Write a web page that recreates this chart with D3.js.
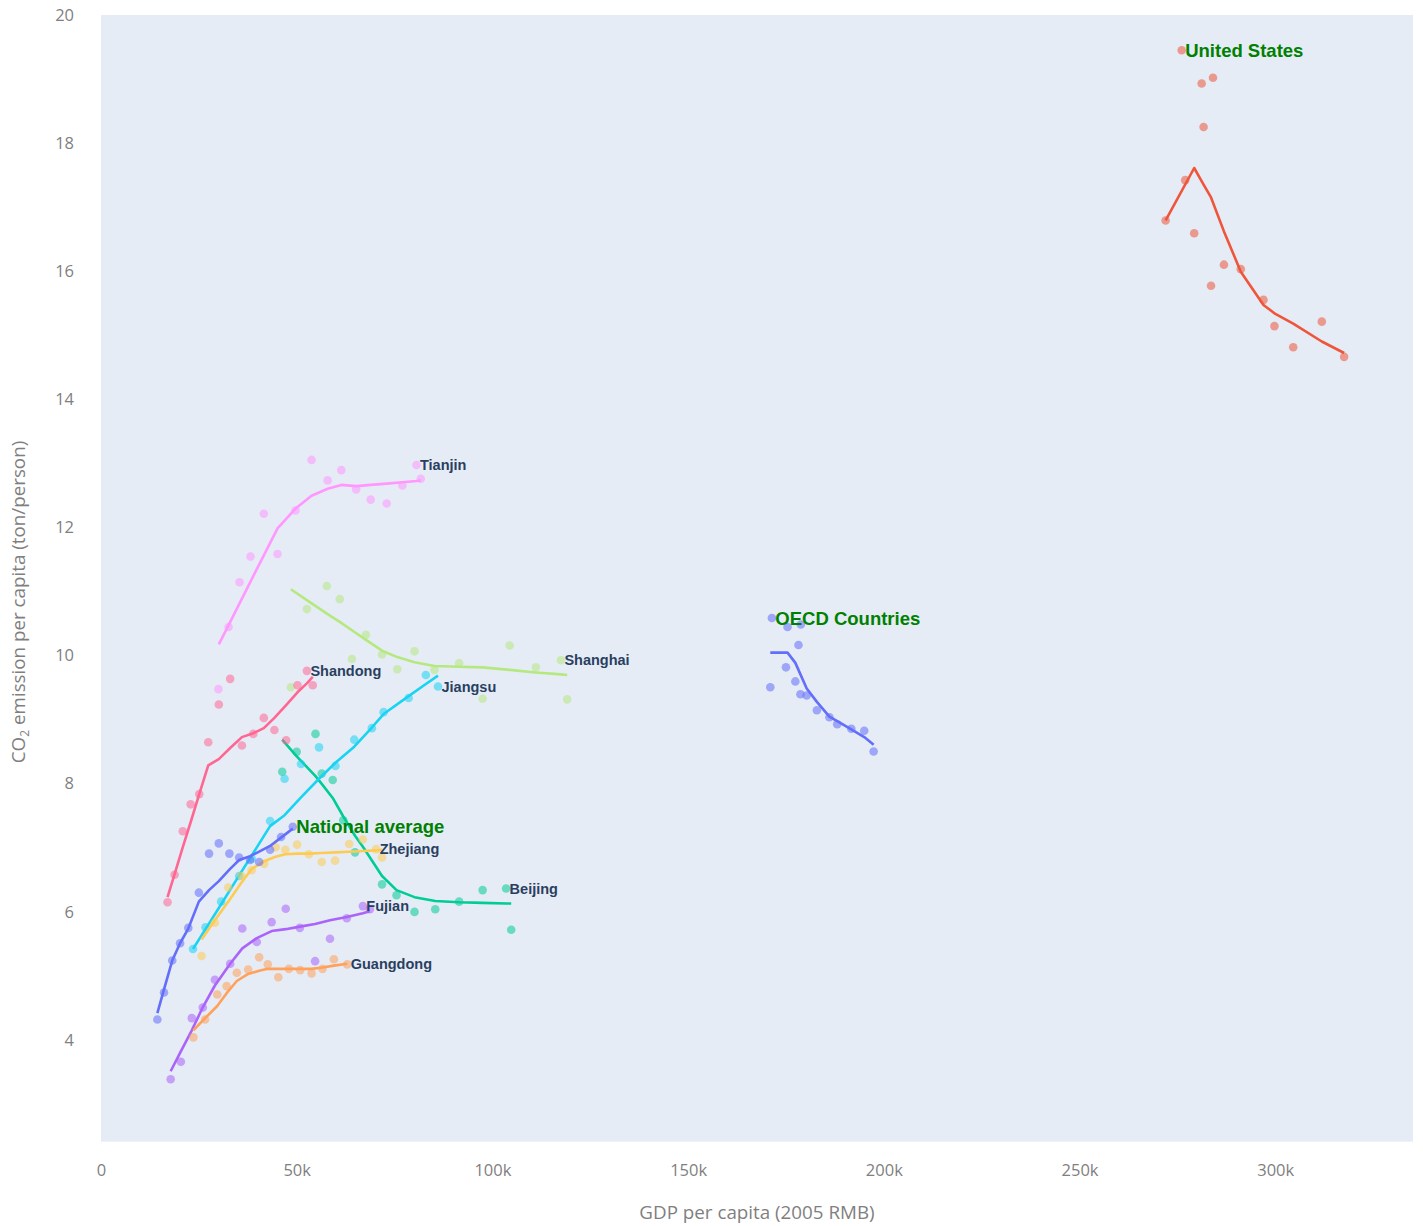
<!DOCTYPE html>
<html><head><meta charset="utf-8">
<script src="https://cdn.jsdelivr.net/npm/d3@7"></script>
<style>body{margin:0;background:#fff;} svg{display:block;}</style>
</head><body>
<svg id="chart" width="1423" height="1226"></svg>
<script>
// ---- data (x in thousand 2005 RMB, y in ton/person) ----
const xTicks = [0, 50, 100, 150, 200, 250, 300];
const yTicks = [4, 6, 8, 10, 12, 14, 16, 18, 20];

const beijingPts = [[46.3,8.18],[50.0,8.49],[54.8,8.77],[56.4,8.15],[59.2,8.05],[61.9,7.42],[64.9,6.92],[71.8,6.42],[75.5,6.25],[80.1,5.99],[85.4,6.03],[91.5,6.15],[97.5,6.33],[103.5,6.355],[104.8,5.71]];
const beijingFit = [[46.3,8.68],[50.0,8.42],[54.8,8.11],[56.4,7.99],[59.2,7.77],[61.9,7.48],[64.9,7.18],[67.0,7.0],[71.8,6.55],[75.5,6.33],[80.1,6.22],[85.4,6.16],[91.5,6.14],[97.5,6.13],[103.5,6.12],[104.8,6.12]];

const shanghaiPts = [[48.5,9.50],[52.6,10.72],[57.7,11.08],[61.0,10.875],[64.1,9.94],[67.7,10.32],[71.8,10.01],[75.7,9.78],[80.1,10.06],[85.2,9.77],[91.5,9.875],[97.5,9.32],[104.4,10.15],[111.1,9.81],[117.5,9.92],[119.1,9.31]];
const shanghaiFit = [[48.5,11.03],[52.6,10.86],[57.7,10.65],[61.0,10.52],[64.1,10.39],[67.7,10.24],[71.8,10.07],[75.7,9.97],[80.1,9.89],[85.2,9.83],[91.5,9.82],[97.5,9.81],[104.4,9.77],[111.1,9.73],[117.5,9.70],[119.1,9.69]];

const tianjinPts = [[30.0,9.47],[32.6,10.44],[35.4,11.14],[38.2,11.54],[41.6,12.21],[45.1,11.58],[49.7,12.26],[53.8,13.05],[57.9,12.73],[61.4,12.89],[65.2,12.59],[68.9,12.43],[73.0,12.37],[77.0,12.65],[80.6,12.97],[81.7,12.755]];
const tianjinFit = [[30.1,10.17],[32.6,10.47],[35.4,10.81],[38.2,11.15],[41.6,11.56],[45.1,11.98],[49.7,12.29],[53.8,12.49],[57.9,12.60],[61.4,12.66],[65.2,12.64],[68.9,12.66],[73.0,12.68],[77.0,12.70],[80.6,12.72],[81.7,12.73]];

const jiangsuPts = [[23.5,5.41],[26.7,5.75],[30.7,6.15],[35.3,6.55],[38.5,6.82],[43.2,7.41],[46.9,8.07],[51.1,8.30],[55.7,8.56],[59.9,8.27],[64.7,8.68],[69.2,8.86],[72.2,9.11],[78.6,9.33],[83.0,9.69],[86.1,9.51]];
const jiangsuFit = [[23.5,5.41],[26.7,5.72],[30.7,6.11],[35.3,6.56],[38.5,6.87],[43.2,7.33],[46.9,7.50],[51.1,7.78],[55.7,8.07],[59.9,8.32],[64.7,8.57],[69.2,8.87],[72.2,9.08],[78.6,9.36],[83.0,9.55],[86.1,9.68]];

const zhejiangPts = [[25.7,5.30],[29.1,5.82],[32.5,6.37],[35.9,6.55],[38.5,6.64],[41.7,6.74],[44.6,7.00],[47.1,6.96],[50.1,7.04],[53.1,6.89],[56.4,6.77],[59.8,6.79],[63.4,7.05],[66.9,7.12],[70.3,6.97],[71.8,6.84]];
const zhejiangFit = [[25.7,5.56],[29.1,5.86],[32.5,6.15],[35.9,6.45],[38.5,6.66],[41.7,6.78],[44.6,6.85],[47.1,6.89],[50.1,6.90],[53.1,6.90],[56.4,6.91],[59.8,6.92],[63.4,6.93],[66.9,6.94],[70.3,6.95],[71.8,6.96]];

const fujianPts = [[17.8,3.375],[20.4,3.65],[23.2,4.33],[26.0,4.495],[29.1,4.93],[33.0,5.18],[36.1,5.73],[39.8,5.52],[43.6,5.83],[47.2,6.04],[50.8,5.74],[54.7,5.22],[58.5,5.57],[62.8,5.89],[66.9,6.08],[68.7,6.03]];
const fujianFit = [[17.8,3.50],[20.4,3.81],[23.2,4.14],[26.0,4.50],[29.1,4.84],[33.0,5.18],[36.1,5.42],[39.8,5.58],[43.6,5.69],[47.2,5.72],[50.8,5.76],[54.7,5.80],[58.5,5.86],[62.8,5.91],[66.9,5.97],[68.7,6.00]];

const guangdongPts = [[23.6,4.03],[26.6,4.31],[29.7,4.70],[32.1,4.83],[34.7,5.04],[37.6,5.09],[40.4,5.28],[42.6,5.17],[45.3,4.97],[48.0,5.10],[50.9,5.08],[53.8,5.03],[56.6,5.10],[59.5,5.25],[62.9,5.17]];
const guangdongFit = [[23.6,4.14],[26.6,4.33],[29.7,4.52],[32.1,4.72],[34.7,4.91],[37.6,5.02],[40.4,5.07],[42.6,5.10],[45.3,5.10],[48.0,5.10],[50.9,5.10],[53.8,5.10],[56.6,5.12],[59.5,5.15],[62.9,5.18]];

const shandongPts = [[17.0,6.14],[18.8,6.57],[20.9,7.25],[22.9,7.67],[25.1,7.83],[27.4,8.64],[30.1,9.23],[33.0,9.63],[36.0,8.59],[38.9,8.77],[41.6,9.02],[44.3,8.83],[47.3,8.67],[50.2,9.53],[52.6,9.755],[54.1,9.53]];
const shandongFit = [[17.0,6.22],[18.8,6.58],[20.9,7.00],[22.9,7.39],[25.1,7.83],[27.4,8.28],[30.1,8.375],[33.0,8.55],[36.0,8.72],[38.9,8.78],[41.6,8.86],[44.3,9.02],[47.3,9.22],[50.2,9.42],[52.6,9.56],[54.1,9.66]];

const nationalPts = [[14.4,4.31],[16.1,4.73],[18.2,5.23],[20.2,5.50],[22.3,5.74],[25.0,6.29],[27.6,6.90],[30.1,7.06],[32.8,6.90],[35.3,6.84],[38.1,6.80],[40.4,6.77],[43.2,6.96],[46.0,7.16],[49.0,7.32]];
const nationalFit = [[14.4,4.41],[16.1,4.78],[18.2,5.23],[20.2,5.50],[22.3,5.73],[25.0,6.15],[27.6,6.33],[30.1,6.47],[32.8,6.65],[35.3,6.80],[38.1,6.86],[40.4,6.93],[43.2,7.02],[46.0,7.15],[49.0,7.29]];

const oecdPts = [[171.0,9.50],[171.4,10.58],[175.0,9.81],[175.4,10.44],[177.4,9.59],[178.2,10.16],[178.7,9.39],[178.8,10.48],[180.3,9.37],[182.9,9.14],[186.1,9.03],[188.1,8.92],[191.7,8.85],[195.0,8.82],[197.4,8.495]];
const oecdFit = [[171.0,10.04],[175.4,10.04],[177.4,9.88],[178.7,9.70],[180.3,9.48],[182.9,9.27],[186.1,9.04],[188.1,8.97],[191.7,8.84],[195.0,8.72],[197.4,8.60]];

const usPts = [[272.0,16.79],[276.1,19.45],[277.0,17.42],[279.3,16.59],[281.2,18.93],[281.7,18.25],[283.6,15.77],[284.1,19.02],[286.9,16.10],[291.2,16.03],[297.0,15.55],[299.8,15.14],[304.6,14.81],[311.9,15.21],[317.6,14.66]];
const usFit = [[272.0,16.79],[279.3,17.61],[281.7,17.35],[283.6,17.15],[286.9,16.62],[291.2,15.99],[297.0,15.47],[299.8,15.34],[304.6,15.18],[311.9,14.90],[317.6,14.72]];

const seriesNames = ["Beijing","Shanghai","Tianjin","Jiangsu","Zhejiang","Fujian","Guangdong","Shandong","National average","OECD Countries","United States"];
const seriesPts = [beijingPts, shanghaiPts, tianjinPts, jiangsuPts, zhejiangPts, fujianPts, guangdongPts, shandongPts, nationalPts, oecdPts, usPts];
const seriesFit = [beijingFit, shanghaiFit, tianjinFit, jiangsuFit, zhejiangFit, fujianFit, guangdongFit, shandongFit, nationalFit, oecdFit, usFit];
const seriesColors = ["#00cc96","#b6e880","#ff97ff","#19d3f3","#fecb52","#ab63fa","#ffa15a","#ff6692","#636efa","#636efa","#ef553b"];

// label anchors
const labelNames = ["Tianjin","Shandong","Jiangsu","Shanghai","Beijing","Zhejiang","Fujian","Guangdong","National average","OECD Countries","United States"];
const labelX = [80.6, 52.6, 86.1, 117.5, 103.5, 70.3, 66.9, 62.9, 49.0, 171.4, 276.1];
const labelY = [12.97, 9.755, 9.51, 9.92, 6.355, 6.97, 6.08, 5.17, 7.32, 10.58, 19.45];
const labelMajor = [false,false,false,false,false,false,false,false,true,true,true];

// ---- layout ----
const L = 101, R = 1413, T = 15, B = 1141.7;
const svg = d3.select("#chart");
const x = d3.scaleLinear().domain([0, 335.2]).range([L, R]);
const y = d3.scaleLinear().domain([2.4, 20]).range([B, T]);

svg.append("rect").attr("x", L).attr("y", T).attr("width", R - L).attr("height", B - T).attr("fill", "#e5ecf6");

const tickFont = "'Open Sans', 'Noto Sans', sans-serif";
const xAxis = d3.axisBottom(x).tickValues(xTicks).tickSize(0).tickPadding(0)
  .tickFormat(d => d === 0 ? "0" : d + "k");
const gx = svg.append("g").attr("transform", `translate(0,${B})`).call(xAxis);
gx.select(".domain").remove();
gx.selectAll("text").attr("y", 0).attr("dy", "34px").attr("font-family", tickFont).attr("font-size", 16.5).attr("fill", "#7f7f7f");

const yAxis = d3.axisLeft(y).tickValues(yTicks).tickSize(0).tickPadding(0);
const gy = svg.append("g").attr("transform", `translate(${L},0)`).call(yAxis);
gy.select(".domain").remove();
gy.selectAll("text").attr("x", -27).attr("dy", "0.35em").attr("font-family", tickFont).attr("font-size", 16.5).attr("fill", "#7f7f7f");

// axis titles
svg.append("text").attr("x", (L + R) / 2).attr("y", 1219).attr("text-anchor", "middle")
  .attr("font-family", tickFont).attr("font-size", 18.8).attr("fill", "#7f7f7f").text("GDP per capita (2005 RMB)");
const yt = svg.append("text").attr("transform", "translate(25,602) rotate(-90)").attr("text-anchor", "middle")
  .attr("font-family", tickFont).attr("font-size", 18.8).attr("fill", "#7f7f7f");
yt.append("tspan").text("CO");
yt.append("tspan").attr("font-size", 12).attr("dy", 4).text("2");
yt.append("tspan").attr("dy", -4).text(" emission per capita (ton/person)");

// ---- marks ----
const line = d3.line().x(d => x(d[0])).y(d => y(d[1]));
const plot = svg.append("g");
seriesNames.forEach((name, i) => {
  const g = plot.append("g").attr("class", "series");
  g.selectAll("circle").data(seriesPts[i]).join("circle")
    .attr("cx", d => x(d[0])).attr("cy", d => y(d[1])).attr("r", 4.3)
    .attr("fill", seriesColors[i]).attr("fill-opacity", 0.55);
  g.append("path").datum(seriesFit[i]).attr("d", line)
    .attr("fill", "none").attr("stroke", seriesColors[i]).attr("stroke-width", 2.6)
    .attr("stroke-linejoin", "round");
});

// ---- labels ----
const lab = svg.append("g");
labelNames.forEach((name, i) => {
  const t = lab.append("text")
    .attr("x", x(labelX[i]) + 3.5).attr("y", y(labelY[i])).attr("dy", "0.35em")
    .attr("font-family", "'Liberation Sans', Arial, sans-serif")
    .attr("font-weight", "bold")
    .text(name);
  if (labelMajor[i]) {
    t.attr("font-size", 18.5).attr("fill", "#008000");
  } else {
    t.attr("font-size", 14.5).attr("fill", "#2a3f5f");
  }
});
</script>
</body></html>
